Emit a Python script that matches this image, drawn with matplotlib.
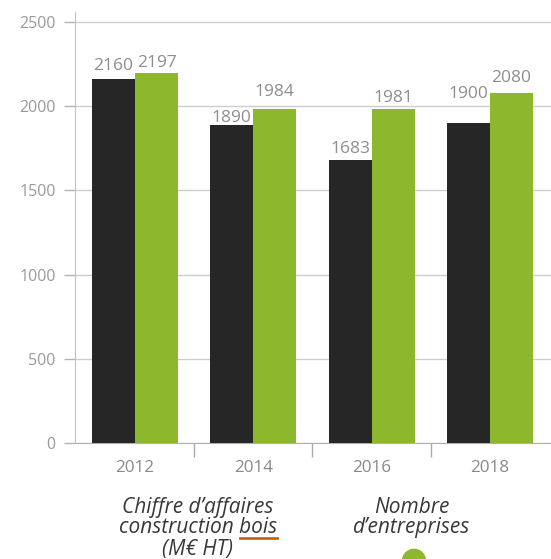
import matplotlib
matplotlib.use("Agg")
import matplotlib.pyplot as plt
import numpy as np
from matplotlib.patches import Circle
from matplotlib.lines import Line2D

years = ["2012", "2014", "2016", "2018"]
chiffre_affaires = [2160, 1890, 1683, 1900]
nombre_entreprises = [2197, 1984, 1981, 2080]
yticks = [0, 500, 1000, 1500, 2000, 2500]
label_ca = ["Chiffre d\u2019affaires", "construction bois", "(M\u20ac HT)"]
label_nb = ["Nombre", "d\u2019entreprises"]

# style: gap (px) between bar top and value label
gap_ca = [9, 3, 7, 25]
gap_nb = [6, 13, 7, 11]

BLACK = "#262626"
GREEN = "#8db82e"
GRAY_TXT = "#8e8e8e"
GRID = "#cdcdcd"
FONT = "Open Sans"

W, H = 551, 559
fig = plt.figure(figsize=(W / 100, H / 100), dpi=100)
ax = fig.add_axes([75 / W, 1 - 443 / H, 1 - 75 / W, (443 - 12) / H])

x = np.arange(len(years))
bw = 0.364
ax.bar(x - bw / 2, chiffre_affaires, bw, color=BLACK, zorder=3)
ax.bar(x + bw / 2, nombre_entreprises, bw, color=GREEN, zorder=3)

px2pt = 0.72
for i in range(len(years)):
    ax.annotate(str(chiffre_affaires[i]), (x[i] - bw / 2, chiffre_affaires[i]),
                xytext=(0, gap_ca[i] * px2pt), textcoords="offset points",
                ha="center", va="baseline", fontsize=12.5, color=GRAY_TXT, family=FONT)
    ax.annotate(str(nombre_entreprises[i]), (x[i] + bw / 2, nombre_entreprises[i]),
                xytext=(0, gap_nb[i] * px2pt), textcoords="offset points",
                ha="center", va="baseline", fontsize=12.5, color=GRAY_TXT, family=FONT)

ax.set_xlim(-0.507, 3.516)
ax.set_ylim(0, 2560)
ax.set_yticks(yticks)
ax.set_yticklabels([str(v) for v in yticks], family=FONT, fontsize=11.5, color="#9a9a9a")
ax.set_xticks(x)
ax.set_xticklabels(years, family=FONT, fontsize=12.3, color="#8a8a8a")
ax.set_xticks([0.5, 1.5, 2.5], minor=True)
ax.tick_params(axis="x", which="major", length=0, pad=12)
ax.tick_params(axis="x", which="minor", length=10, width=1, color="#aaaaaa", direction="out")
ax.tick_params(axis="y", which="major", length=8, width=1, color="#b5b5b5", pad=6)

ax.grid(axis="y", color=GRID, linewidth=1, zorder=0)
ax.set_axisbelow(True)
for s in ["top", "right"]:
    ax.spines[s].set_visible(False)
ax.spines["left"].set_color("#c0c0c0")
ax.spines["bottom"].set_color("#b0b0b0")
ax.spines["left"].set_zorder(1)

# bottom labels
txt_kw = dict(ha="center", va="baseline", fontsize=15, style="italic",
              color="#383838", family=FONT)
base_y = [513, 533, 555]
texts = []
for i, s in enumerate(label_ca):
    t = fig.text(198 / W, 1 - base_y[i] / H, s, **txt_kw)
    texts.append(t)
for i, s in enumerate(label_nb):
    fig.text(412 / W, 1 - base_y[i] / H, s, **txt_kw)

# underline "bois"
fig.canvas.draw()
r = fig.canvas.get_renderer()
bb = texts[1].get_window_extent(r)
tmp = fig.text(0, 0, "bois", **txt_kw)
wb = tmp.get_window_extent(r).width
tmp.remove()
x1 = bb.x1
x0 = x1 - wb
yline = 1 - 538 / H
fig.add_artist(Line2D([x0 / W + 0.001, x1 / W], [yline, yline], transform=fig.transFigure,
                      color="#c8641a", linewidth=2))

# green marker
fig.add_artist(Circle((414 / W, 1 - 561 / H), 11.5 / W, transform=fig.transFigure,
                      color=GREEN, clip_on=False))

fig.savefig("out.png", dpi=100)
